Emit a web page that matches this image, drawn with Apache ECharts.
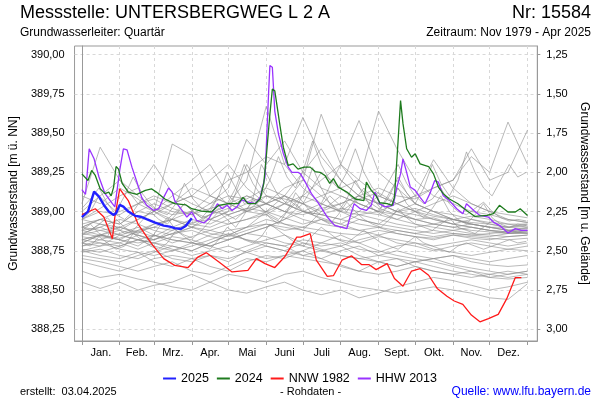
<!DOCTYPE html>
<html><head><meta charset="utf-8">
<script src="https://cdn.jsdelivr.net/npm/echarts@6/dist/echarts.min.js"></script>
<style>html,body{margin:0;padding:0;background:#fff}#c{width:600px;height:400px}</style>
</head><body><div id="c"></div>
<script>
// ---------- axes / ticks ----------
const monthNames = ['Jan.','Feb.','Mrz.','Apr.','Mai','Juni','Juli','Aug.','Sept.','Okt.','Nov.','Dez.'];
const monthStarts = [0,31,59,90,120,151,181,212,243,273,304,334,365];
const monthMids = [15.5,45,74.5,105,135.5,166,196.5,227.5,258,288.5,319,349.5];
const levelTicks = [388.25,388.5,388.75,389,389.25,389.5,389.75,390];
const depthTicks = [1.25,1.5,1.75,2,2.25,2.5,2.75,3];
const groundLevel = 391.25;
const levelMin = 388.175, levelMax = 390.055;

// ---------- highlighted years ----------
const days2025 = [0,1,5,10,14,18,22,26,28,31,34,38,44,48,53,60,67,72,76,81,85,90];
const vals2025 = [388.965,388.967,389.0,389.127,389.095,389.042,389.0,388.978,388.989,389.042,389.031,389.0,388.972,388.967,388.951,388.929,388.91,388.904,388.894,388.889,388.908,388.957];

const days2024 = [0,1,5,8,11,15,19,22,24,26,28,30,33,38,45,52,57,61,68,76,85,90,98,106,112,120,128,132,136,142,146,149,151,154,156,158,160,162,165,169,173,177,182,187,191,195,199,203,206,210,217,224,231,233,237,241,244,250,254,256,259,261,263,266,270,273,277,284,288,292,296,301,308,315,322,332,337,342,349,355,359,365];
const vals2024 = [389.24,389.236,389.198,389.262,389.23,389.145,389.114,389.124,389.10,389.156,389.287,389.27,389.18,389.124,389.11,389.135,389.145,389.124,389.08,389.05,389.043,389.018,389.003,388.997,389.04,389.05,389.05,389.09,389.05,389.05,389.08,389.18,389.346,389.62,389.78,389.77,389.665,389.56,389.41,389.294,389.304,389.27,389.283,389.283,389.255,389.25,389.23,389.18,389.21,389.156,389.124,389.08,389.07,389.187,389.135,389.10,389.056,389.05,389.04,389.09,389.453,389.707,389.56,389.40,389.346,389.368,389.304,389.287,389.24,389.156,389.114,389.08,389.05,389.007,388.969,388.975,388.986,389.04,388.997,388.997,389.018,388.975];

const daysNNW1982 = [0,11,18,25,27,31,38,46,57,67,76,87,95,102,112,123,136,143,150,158,166,176,179,187,192,201,206,213,221,229,235,241,250,256,263,270,277,284,291,299,305,312,319,326,333,341,348,355,360];
const valsNNW1982 = [388.98,389.018,388.965,388.827,388.965,389.145,389.07,388.92,388.795,388.70,388.657,388.643,388.71,388.738,388.68,388.615,388.625,388.70,388.668,388.643,388.71,388.837,388.837,388.859,388.69,388.587,388.591,388.69,388.717,388.662,388.662,388.63,388.668,388.573,388.524,388.621,388.636,388.594,388.51,388.46,388.43,388.409,388.34,388.297,388.318,388.345,388.445,388.579,388.579];

const daysHHW2013 = [0,1,3,6,10,14,19,25,27,31,34,37,41,45,49,53,59,63,67,71,74,76,82,86,90,94,100,104,111,115,119,123,127,131,136,142,146,150,153,154,156,158,161,165,169,172,177,179,183,188,194,201,207,217,220,223,228,233,237,240,244,248,255,258,261,263,266,269,273,277,281,285,289,292,296,301,307,312,315,321,326,333,337,342,349,355,360,365];
const valsHHW2013 = [389.14,389.139,389.11,389.40,389.336,389.22,389.114,389.05,389.03,389.262,389.40,389.393,389.283,389.19,389.09,389.04,389.007,389.018,389.09,389.15,389.124,389.07,389.007,388.965,388.997,388.944,388.927,388.955,389.05,389.018,389.04,389.007,389.03,389.075,389.06,389.05,389.09,389.22,389.77,389.93,389.92,389.64,389.495,389.37,389.283,389.25,389.25,389.24,389.187,389.114,389.05,388.965,388.912,388.891,388.975,389.05,389.018,389.007,389.04,389.124,389.05,389.03,389.04,389.156,389.24,389.336,389.25,389.156,389.135,389.09,389.05,389.114,389.198,389.187,389.10,389.07,389.018,388.986,389.05,389.007,388.975,388.965,388.933,388.912,388.863,388.891,388.88,388.88];

// ---------- other years (grey), sampled twice a month ----------
const greyDays = [0,15,31,46,59,74,90,105,120,135,151,166,181,196,212,227,243,258,273,288,304,319,334,349,365];
const grey01 = [389.05,389.41,389.20,389.10,389.02,388.98,389.00,388.95,388.92,388.95,388.98,388.92,388.90,388.88,388.86,388.85,388.88,388.86,388.84,388.83,388.85,388.84,388.83,388.82,388.83];
const grey02 = [388.85,388.92,388.88,388.95,389.00,389.43,389.36,389.10,389.05,389.00,389.10,389.05,389.00,388.98,388.95,388.92,388.90,388.88,388.86,388.88,388.86,388.85,388.84,388.86,388.87];
const grey03 = [388.80,388.85,388.82,388.88,388.90,388.95,388.92,388.98,389.05,389.20,389.67,389.30,389.15,389.05,389.00,388.98,388.95,388.92,388.90,388.92,388.90,388.88,388.87,388.86,388.87];
const grey04 = [388.90,388.95,388.92,389.00,388.98,389.05,389.10,389.05,389.15,389.46,389.30,389.45,389.25,389.15,389.10,389.05,389.00,388.98,388.95,388.92,388.90,388.92,388.90,388.88,388.90];
const grey05 = [388.95,389.00,388.98,389.05,389.10,389.05,389.15,389.10,389.20,389.25,389.35,389.30,389.60,389.35,389.20,389.10,389.05,389.00,388.98,388.95,388.92,388.95,388.92,388.90,388.92];
const grey06 = [388.88,388.90,388.85,388.88,388.92,388.95,388.90,388.98,389.02,389.10,389.05,389.15,389.20,389.62,389.30,389.20,389.10,389.05,389.00,388.97,388.95,388.93,388.92,388.90,388.91];
const grey07 = [388.75,388.78,388.80,388.85,388.82,388.88,388.92,388.90,388.95,389.00,389.05,389.00,389.10,389.20,389.30,389.58,389.25,389.15,389.05,389.00,388.98,388.95,388.93,388.92,388.90];
const grey08 = [388.82,388.85,388.83,388.87,388.90,388.88,388.93,388.95,389.00,389.05,389.10,389.08,389.05,389.10,389.15,389.20,389.64,389.40,389.20,389.10,389.05,389.00,388.98,388.95,388.93];
const grey09 = [388.80,388.85,388.82,388.78,388.85,388.82,388.80,388.85,388.88,388.90,388.92,388.88,388.90,388.95,388.92,388.98,389.00,389.05,389.10,389.15,389.20,389.35,389.25,389.57,389.30];
const grey10 = [388.90,388.95,388.92,389.00,389.05,389.00,388.98,389.02,389.05,389.10,389.05,389.00,388.98,389.02,389.05,389.10,389.15,389.10,389.08,389.15,389.20,389.40,389.20,389.25,389.52];
const grey11 = [388.85,388.88,388.90,388.86,388.92,388.95,388.90,388.88,388.92,388.95,389.00,389.05,389.10,389.05,389.00,389.08,389.12,389.05,389.10,389.33,389.15,389.05,389.00,388.98,388.96];
const grey12 = [388.55,388.51,388.55,388.50,388.53,388.55,388.60,388.55,388.50,388.48,388.52,388.55,388.50,388.47,388.50,388.45,388.48,388.52,388.55,388.58,388.56,388.53,388.50,388.52,388.55];
const grey13 = [388.62,388.58,388.60,388.57,388.55,388.52,388.50,388.55,388.60,388.58,388.55,388.60,388.62,388.58,388.55,388.52,388.50,388.48,388.50,388.52,388.50,388.48,388.45,388.44,388.54];
const grey14 = [388.70,388.68,388.65,388.62,388.65,388.68,388.62,388.60,388.65,388.70,388.68,388.72,388.75,388.70,388.65,388.62,388.68,388.70,388.65,388.62,388.60,388.62,388.58,388.60,388.62];
const grey15 = [388.75,388.72,388.70,388.74,388.68,388.65,388.70,388.72,388.68,388.75,388.80,388.78,388.72,388.70,388.75,388.78,388.72,388.70,388.68,388.65,388.62,388.60,388.58,388.57,388.58];
const grey16 = [388.72,388.70,388.68,388.72,388.75,388.70,388.68,388.72,388.70,388.74,388.78,388.75,388.80,388.76,388.72,388.70,388.68,388.65,388.68,388.70,388.66,388.64,388.62,388.60,388.62];
const grey17 = [388.82,388.80,388.78,388.82,388.85,388.80,388.84,388.88,388.85,388.90,388.95,388.92,388.88,388.85,388.82,388.80,388.84,388.82,388.80,388.78,388.80,388.82,388.80,388.78,388.80];
const grey18 = [388.88,388.85,388.90,388.87,388.84,388.90,388.95,388.92,388.98,389.02,389.00,388.96,388.92,388.95,388.90,388.88,388.85,388.88,388.86,388.84,388.86,388.85,388.86,388.87,388.87];
const grey19 = [388.78,388.82,388.80,388.76,388.80,388.84,388.82,388.78,388.82,388.86,388.90,388.95,389.00,388.96,388.92,388.88,388.90,388.86,388.84,388.82,388.85,388.83,388.82,388.84,388.85];
const grey20 = [388.92,388.95,389.00,389.05,389.08,389.02,388.98,389.05,389.10,389.08,389.15,389.10,389.05,389.00,389.05,389.10,389.02,388.98,388.95,388.96,388.92,388.90,388.88,388.87,388.86];
const grey21 = [388.95,389.02,389.10,389.15,389.30,389.12,389.05,389.00,388.98,389.02,389.05,389.00,388.95,388.92,388.90,388.95,388.92,388.90,388.88,388.86,388.88,388.86,388.85,388.84,388.85];
const grey22 = [388.86,388.84,388.82,388.80,388.82,388.86,388.88,388.84,388.82,388.86,388.84,388.80,388.78,388.75,388.72,388.70,388.72,388.75,388.72,388.70,388.72,388.70,388.68,388.70,388.72];
const grey23 = [388.80,388.78,388.85,388.82,388.78,388.75,388.80,388.78,388.74,388.78,388.82,388.85,388.80,388.78,388.80,388.76,388.74,388.78,388.80,388.76,388.74,388.72,388.74,388.76,388.75];
const grey24 = [389.00,389.10,389.20,389.05,389.00,388.95,389.00,389.10,389.05,389.00,388.98,389.05,389.20,389.10,389.00,388.95,388.92,389.00,389.05,389.00,388.95,388.92,388.90,388.88,388.88];
const grey25 = [388.90,388.88,388.85,388.82,388.80,388.78,388.75,388.80,388.85,388.82,388.80,388.78,388.82,388.80,388.78,388.82,388.85,388.80,388.78,388.75,388.78,388.80,388.78,388.76,388.78];
const grey26 = [388.74,388.76,388.72,388.70,388.74,388.78,388.75,388.80,388.85,388.90,389.00,389.10,389.05,388.98,388.95,389.00,389.10,389.05,389.00,388.95,388.92,388.90,388.88,388.86,388.86];
const grey27 = [388.84,388.82,388.86,388.90,388.85,388.82,388.80,388.78,388.82,388.86,388.90,388.95,389.05,389.25,389.15,389.05,389.00,388.95,388.92,388.90,388.88,388.90,388.88,388.87,388.88];
const grey28 = [388.78,388.80,388.76,388.74,388.72,388.75,388.78,388.82,388.86,388.82,388.78,388.75,388.72,388.75,388.78,388.72,388.68,388.65,388.68,388.70,388.72,388.68,388.66,388.65,388.66];
const grey29 = [388.68,388.65,388.62,388.66,388.70,388.72,388.70,388.65,388.62,388.68,388.72,388.70,388.75,388.80,388.85,388.80,388.75,388.72,388.70,388.68,388.65,388.62,388.60,388.58,388.60];
const grey30 = [389.10,389.05,389.15,389.08,389.00,389.05,389.10,389.20,389.30,389.15,389.05,389.10,389.25,389.40,389.20,389.10,389.05,389.00,389.02,388.98,388.95,388.97,388.95,388.92,388.92];
const grey31 = [388.95,388.92,388.90,388.95,389.00,389.10,389.20,389.30,389.10,389.00,389.05,389.10,389.00,389.05,389.30,389.15,389.05,389.00,388.95,388.92,388.95,388.92,388.90,388.90,388.89];
const grey32 = [388.86,388.90,388.95,388.92,388.88,388.85,388.90,388.95,389.00,389.30,389.10,389.05,389.00,388.98,389.02,389.00,388.98,388.95,389.00,389.05,389.10,389.05,389.00,388.95,388.93];
const grey33 = [388.82,388.85,388.88,388.85,388.82,388.86,388.90,388.86,388.84,388.88,388.92,388.90,388.88,389.00,389.10,389.05,389.00,389.20,389.05,389.00,388.95,388.92,388.90,388.88,388.89];
const grey34 = [388.76,388.74,388.78,388.82,388.80,388.76,388.72,388.75,388.78,388.74,388.70,388.72,388.70,388.68,388.66,388.62,388.60,388.62,388.65,388.62,388.60,388.58,388.60,388.62,388.60];
const greyYears = [grey01,grey02,grey03,grey04,grey05,grey06,grey07,grey08,grey09,grey10,grey11,grey12,grey13,grey14,grey15,grey16,grey17,grey18,grey19,grey20,grey21,grey22,grey23,grey24,grey25,grey26,grey27,grey28,grey29,grey30,grey31,grey32,grey33,grey34];

// ---------- other years (grey), weekly readings ----------
const weekDays = [0,7,14,21,28,35,42,49,56,63,70,77,84,91,98,105,112,119,126,133,140,147,154,161,168,175,182,189,196,203,210,217,224,231,238,245,252,259,266,273,280,287,294,301,308,315,322,329,336,343,350,357,364];
const greyW1 = [389.02,389.08,389.15,389.05,389.00,389.10,389.22,389.12,389.05,389.00,388.98,389.05,389.18,389.08,389.02,389.00,389.10,389.25,389.15,389.05,389.08,389.30,389.20,389.10,389.05,389.02,389.12,389.28,389.15,389.05,389.00,389.08,389.20,389.10,389.02,388.98,389.05,389.15,389.05,389.00,388.96,389.02,389.10,389.00,388.95,388.92,388.98,389.05,388.96,388.92,388.90,388.92,388.91];
const greyW2 = [388.88,388.92,388.86,388.84,388.95,388.90,388.86,388.84,388.82,388.90,388.96,388.88,388.85,388.83,388.88,388.94,389.00,388.95,388.90,388.98,389.08,389.02,388.96,388.92,389.00,389.12,389.05,388.98,388.95,388.92,388.98,389.06,389.00,388.95,388.92,388.90,388.95,389.02,388.96,388.92,388.90,388.88,388.92,388.96,388.90,388.88,388.86,388.90,388.94,388.90,388.88,388.87,388.88];
const greyW3 = [388.90,388.88,388.92,388.96,388.90,388.86,388.88,388.94,389.00,388.95,388.92,388.98,389.05,389.00,388.96,389.02,389.10,389.05,389.15,389.30,389.18,389.10,389.20,389.35,389.22,389.15,389.28,389.45,389.30,389.20,389.15,389.25,389.40,389.25,389.15,389.10,389.20,389.30,389.18,389.10,389.05,389.08,389.15,389.05,389.00,388.98,389.02,389.06,389.00,388.96,388.94,388.95,388.94];
const greyW4 = [388.80,388.78,388.84,388.80,388.76,388.78,388.86,388.82,388.78,388.76,388.80,388.88,388.84,388.80,388.78,388.76,388.82,388.90,388.86,388.82,388.80,388.84,388.92,388.88,388.84,388.80,388.78,388.85,388.90,388.86,388.82,388.80,388.84,388.88,388.84,388.80,388.78,388.76,388.80,388.84,388.80,388.78,388.76,388.74,388.78,388.80,388.78,388.76,388.78,388.80,388.82,388.80,388.81];
const greyW5 = [388.95,389.00,389.10,389.05,388.98,388.95,389.00,389.08,389.02,388.98,388.95,389.00,389.05,389.00,388.96,388.98,389.02,388.98,388.95,389.00,389.06,389.02,388.98,388.95,389.00,389.05,389.00,388.98,389.04,389.10,389.05,389.00,389.08,389.15,389.08,389.02,389.10,389.22,389.12,389.05,389.15,389.30,389.18,389.10,389.20,389.38,389.25,389.15,389.10,389.20,389.30,389.22,389.25];
const greyWeekly = [greyW1,greyW2,greyW3,greyW4,greyW5];

// ---------- build ----------
const FONT = '"Liberation Sans", Arial, sans-serif';
const pair = (d, v) => d.map((x, i) => [x, v[i]]);
const fmt = v => v.toFixed(2).replace('.', ',');
const greyStyle = {color: 'rgba(140,140,140,0.6)', width: 1};

const series = [];
greyYears.forEach((g, i) => series.push({
  type: 'line', name: 'grey' + i, data: pair(greyDays, g), symbol: 'none',
  silent: true, lineStyle: greyStyle, z: 1
}));
greyWeekly.forEach((g, i) => series.push({
  type: 'line', name: 'greyW' + i, data: pair(weekDays, g), symbol: 'none',
  silent: true, lineStyle: greyStyle, z: 1
}));
series.push({type:'line', name:'NNW 1982', data: pair(daysNNW1982, valsNNW1982), symbol:'none', lineStyle:{color:'#ff1a1a', width:1.3}, itemStyle:{color:'#ff1a1a'}, z:3});
series.push({type:'line', name:'HHW 2013', data: pair(daysHHW2013, valsHHW2013), symbol:'none', lineStyle:{color:'#9933ff', width:1.3}, itemStyle:{color:'#9933ff'}, z:4});
series.push({type:'line', name:'2024', data: pair(days2024, vals2024), symbol:'none', lineStyle:{color:'#1e7b1e', width:1.3}, itemStyle:{color:'#1e7b1e'}, z:5});
series.push({type:'line', name:'2025', data: pair(days2025, vals2025), symbol:'none', lineStyle:{color:'#2222ff', width:2.4}, itemStyle:{color:'#2222ff'}, z:6});

const chart = echarts.init(document.getElementById('c'), null, {renderer: 'canvas'});
chart.setOption({
  animation: false,
  backgroundColor: '#fff',
  textStyle: {fontFamily: FONT},
  grid: {left: 74.3, right: 62.7, top: 46, bottom: 59, show: true, borderColor: '#999', borderWidth: 1, backgroundColor: 'transparent'},
  legend: {
    data: ['2025', '2024', 'NNW 1982', 'HHW 2013'], top: 367, left: 'center',
    icon: 'rect', itemWidth: 13, itemHeight: 2, itemGap: 8,
    textStyle: {fontSize: 12.5, color: '#000', fontFamily: FONT}
  },
  xAxis: {
    type: 'value', min: -6, max: 373,
    axisLine: {show: true, onZero: false, lineStyle: {color: '#999'}},
    axisTick: {show: true, length: 4, lineStyle: {color: '#999'}, customValues: monthStarts},
    axisLabel: {customValues: monthMids, fontSize: 11, color: '#000', margin: 6,
      formatter: v => monthNames[monthMids.findIndex(m => Math.abs(m - v) < 0.01)] || ''},
    splitLine: {show: true, lineStyle: {color: '#d8d8d8', type: [3, 3]}}
  },
  yAxis: [{
    type: 'value', min: levelMin, max: levelMax, position: 'left',
    name: 'Grundwasserstand [m ü. NN]', nameLocation: 'middle', nameGap: 50,
    nameTextStyle: {fontSize: 12, color: '#000', fontFamily: FONT},
    axisLine: {show: true, lineStyle: {color: '#999'}},
    axisTick: {show: false, customValues: levelTicks},
    axisLabel: {customValues: levelTicks, fontSize: 11, color: '#000', margin: 10, formatter: fmt},
    splitLine: {show: true, lineStyle: {color: '#d8d8d8', type: [3, 3]}}
  }, {
    type: 'value', min: groundLevel - levelMax, max: groundLevel - levelMin, inverse: true, position: 'right',
    name: 'Grundwasserstand [m u. Gelände]', nameLocation: 'middle', nameGap: 40, nameRotate: -90,
    nameTextStyle: {fontSize: 12, color: '#000', fontFamily: FONT},
    axisLine: {show: true, lineStyle: {color: '#999'}},
    axisTick: {show: true, length: 3, lineStyle: {color: '#999'}, customValues: depthTicks},
    axisLabel: {customValues: depthTicks, fontSize: 11, color: '#000', margin: 9, formatter: fmt},
    splitLine: {show: false}
  }],
  graphic: [
    {type: 'text', left: 20, top: 4, style: {text: 'Messstelle: UNTERSBERGWEG L 2 A', font: '18px ' + FONT, fill: '#000'}},
    {type: 'text', right: 9, top: 4, style: {text: 'Nr: 15584', font: '18px ' + FONT, fill: '#000'}},
    {type: 'text', left: 20, top: 27, style: {text: 'Grundwasserleiter: Quartär', font: '12px ' + FONT, fill: '#000'}},
    {type: 'text', right: 9, top: 27, style: {text: 'Zeitraum: Nov 1979 - Apr 2025', font: '12px ' + FONT, fill: '#000'}},
    {type: 'text', left: 20, top: 386, style: {text: 'erstellt:  03.04.2025', font: '11px ' + FONT, fill: '#000'}},
    {type: 'text', left: 280, top: 386, style: {text: '- Rohdaten -', font: '11px ' + FONT, fill: '#000'}},
    {type: 'text', right: 9, top: 386, style: {text: 'Quelle: www.lfu.bayern.de', font: '12px ' + FONT, fill: '#0000ff'}}
  ],
  series: series
});
</script></body></html>
